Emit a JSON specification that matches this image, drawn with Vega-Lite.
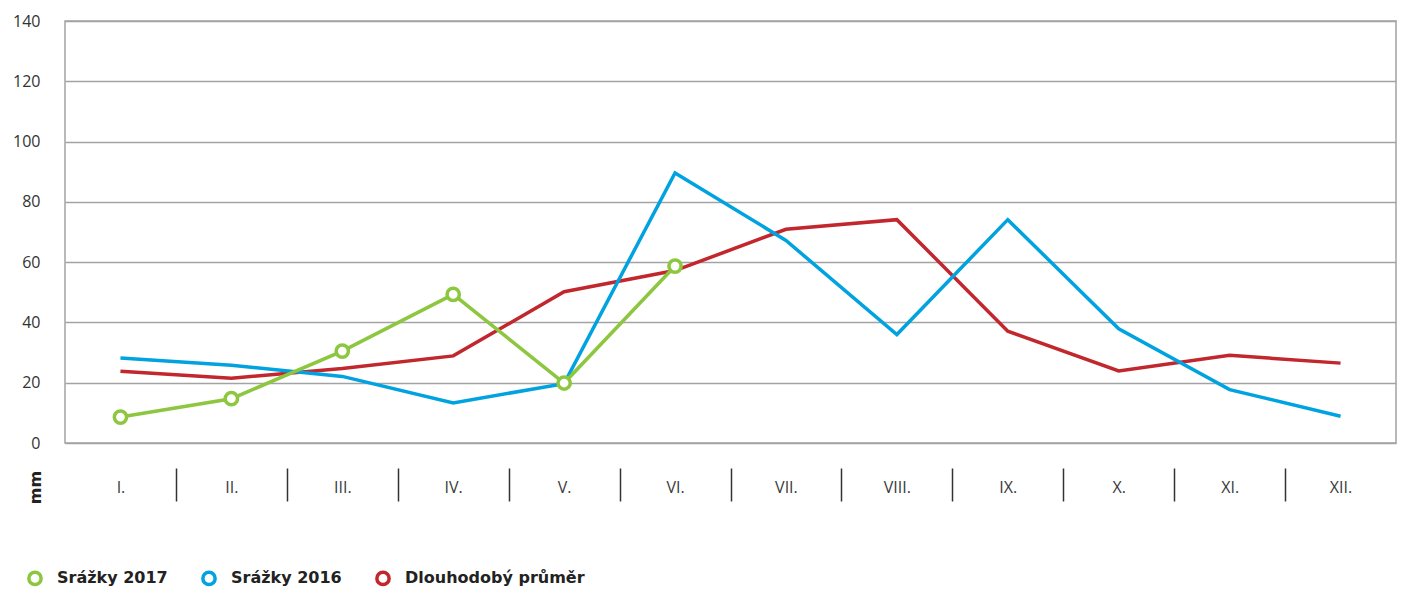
{
  "$schema": "https://vega.github.io/schema/vega-lite/v6.json",
  "width": 1331,
  "height": 422,
  "autosize": {"type": "none"},
  "padding": {"left": 65, "top": 21, "right": 6, "bottom": 148},
  "config": {
    "view": {"stroke": "#a3a3a3", "strokeWidth": 1.5},
    "font": "Open Sans"
  },
  "data": {
    "values": [
      {"month": "I.", "series": "Srážky 2017", "value": 8.6},
      {"month": "II.", "series": "Srážky 2017", "value": 14.7},
      {"month": "III.", "series": "Srážky 2017", "value": 30.5},
      {"month": "IV.", "series": "Srážky 2017", "value": 49.3},
      {"month": "V.", "series": "Srážky 2017", "value": 19.9},
      {"month": "VI.", "series": "Srážky 2017", "value": 58.7},
      {"month": "I.", "series": "Srážky 2016", "value": 28.2},
      {"month": "II.", "series": "Srážky 2016", "value": 25.8},
      {"month": "III.", "series": "Srážky 2016", "value": 22.1},
      {"month": "IV.", "series": "Srážky 2016", "value": 13.3},
      {"month": "V.", "series": "Srážky 2016", "value": 19.7},
      {"month": "VI.", "series": "Srážky 2016", "value": 89.6},
      {"month": "VII.", "series": "Srážky 2016", "value": 67.2},
      {"month": "VIII.", "series": "Srážky 2016", "value": 36.0},
      {"month": "IX.", "series": "Srážky 2016", "value": 74.1},
      {"month": "X.", "series": "Srážky 2016", "value": 37.9},
      {"month": "XI.", "series": "Srážky 2016", "value": 17.7},
      {"month": "XII.", "series": "Srážky 2016", "value": 8.9},
      {"month": "I.", "series": "Dlouhodobý průměr", "value": 23.8},
      {"month": "II.", "series": "Dlouhodobý průměr", "value": 21.5},
      {"month": "III.", "series": "Dlouhodobý průměr", "value": 24.7},
      {"month": "IV.", "series": "Dlouhodobý průměr", "value": 28.9},
      {"month": "V.", "series": "Dlouhodobý průměr", "value": 50.2},
      {"month": "VI.", "series": "Dlouhodobý průměr", "value": 57.2},
      {"month": "VII.", "series": "Dlouhodobý průměr", "value": 70.9},
      {"month": "VIII.", "series": "Dlouhodobý průměr", "value": 74.1},
      {"month": "IX.", "series": "Dlouhodobý průměr", "value": 37.1},
      {"month": "X.", "series": "Dlouhodobý průměr", "value": 23.9},
      {"month": "XI.", "series": "Dlouhodobý průměr", "value": 29.1},
      {"month": "XII.", "series": "Dlouhodobý průměr", "value": 26.5}
    ]
  },
  "encoding": {
    "x": {
      "field": "month",
      "type": "ordinal",
      "sort": ["I.", "II.", "III.", "IV.", "V.", "VI.", "VII.", "VIII.", "IX.", "X.", "XI.", "XII."],
      "scale": {"type": "band", "paddingInner": 0, "paddingOuter": 0},
      "axis": {
        "title": null,
        "orient": "bottom",
        "offset": 25,
        "domain": false,
        "grid": false,
        "tickBand": "extent",
        "tickSize": 33,
        "tickWidth": 1.5,
        "tickColor": "#333333",
        "tickOpacity": {"condition": {"test": "datum.extra || datum.value === 'XII.'", "value": 0}, "value": 1},
        "labelAngle": 0,
        "labelBaseline": "middle",
        "labelPadding": -14,
        "labelFont": "Open Sans",
        "labelFontSize": 16,
        "labelColor": "#3a3a3a"
      }
    },
    "y": {
      "field": "value",
      "type": "quantitative",
      "scale": {"domain": [0, 140], "nice": false},
      "axis": {
        "values": [0, 20, 40, 60, 80, 100, 120, 140],
        "title": "mm",
        "titleX": -30,
        "titleY": 466,
        "titleAlign": "center",
        "titleBaseline": "middle",
        "titleFont": "DejaVu Sans",
        "titleFontWeight": "bold",
        "titleFontSize": 16,
        "titleColor": "#222222",
        "domain": false,
        "ticks": false,
        "tickSize": 0,
        "labelPadding": 25,
        "labelFont": "Open Sans",
        "labelFontSize": 16,
        "labelColor": "#333333",
        "grid": true,
        "gridColor": "#a3a3a3",
        "gridWidth": 1.5
      }
    },
    "color": {
      "field": "series",
      "type": "nominal",
      "scale": {
        "domain": ["Srážky 2017", "Srážky 2016", "Dlouhodobý průměr"],
        "range": ["#8dc63f", "#00a3e0", "#c1272d"]
      },
      "legend": {
        "orient": "none",
        "legendX": -38,
        "legendY": 549,
        "direction": "horizontal",
        "title": null,
        "symbolType": "circle",
        "symbolSize": 150,
        "symbolStrokeWidth": 3.5,
        "symbolFillColor": "white",
        "symbolOpacity": 1,
        "labelFont": "DejaVu Sans",
        "labelFontWeight": "bold",
        "labelFontSize": 16,
        "labelColor": "#222222",
        "labelOffset": 14,
        "labelLimit": 400,
        "columnPadding": 27,
        "padding": 0
      }
    }
  },
  "layer": [
    {
      "transform": [{"filter": "datum.series === 'Dlouhodobý průměr'"}],
      "mark": {"type": "line", "strokeWidth": 3.5}
    },
    {
      "transform": [{"filter": "datum.series === 'Srážky 2016'"}],
      "mark": {"type": "line", "strokeWidth": 3.5}
    },
    {
      "transform": [{"filter": "datum.series === 'Srážky 2017'"}],
      "mark": {"type": "line", "strokeWidth": 3.5}
    },
    {
      "transform": [{"filter": "datum.series === 'Srážky 2017'"}],
      "mark": {"type": "point", "filled": false, "fill": "white", "strokeWidth": 3.5, "size": 150, "opacity": 1}
    }
  ]
}
